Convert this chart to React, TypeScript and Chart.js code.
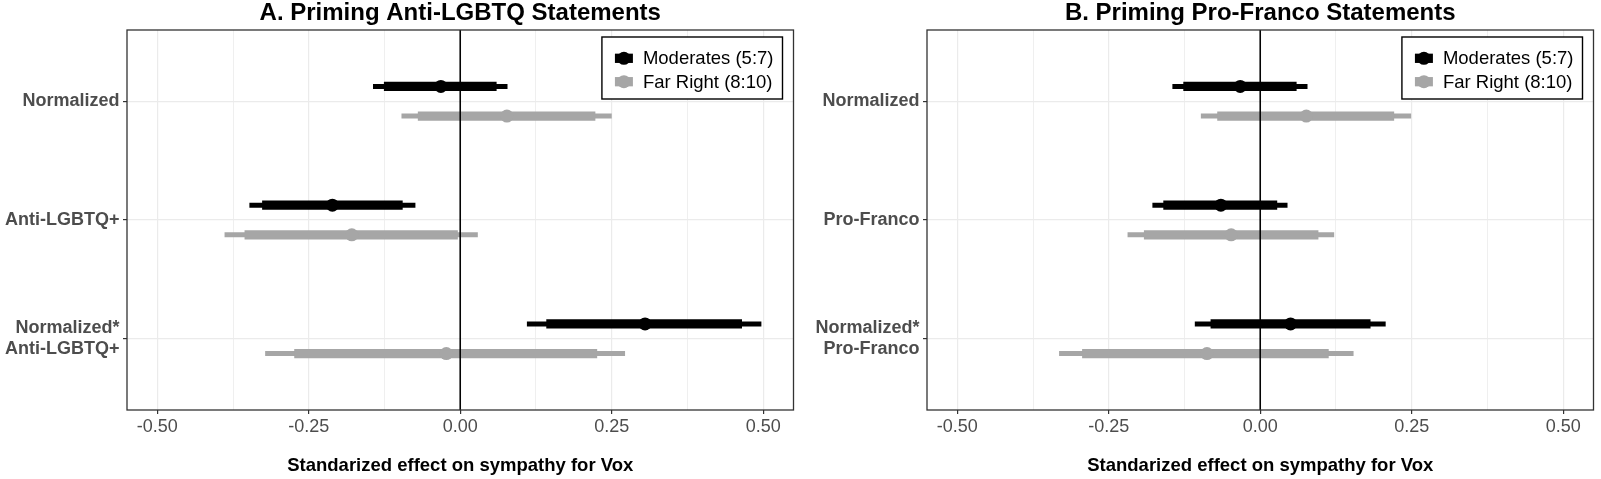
import React, { useEffect, useRef } from 'react';
import { Chart, registerables } from 'chart.js';

Chart.register(...registerables);

const FONT = '"Liberation Sans", Arial, Helvetica, sans-serif';
Chart.defaults.font.family = FONT;

// ---------- shared ----------
const groupLabels = ['Moderates (5:7)', 'Far Right (8:10)'];
const groupColors = ['#000000', '#a6a6a6'];

const xTickValues = [-0.5, -0.375, -0.25, -0.125, 0, 0.125, 0.25, 0.375, 0.5];
const xTickLabels = ['-0.50', '', '-0.25', '', '0.00', '', '0.25', '', '0.50'];
const xAxisTitle = 'Standarized effect on sympathy for Vox';

// ---------- panel A ----------
const titleA = 'A. Priming Anti-LGBTQ Statements';
const categoriesA = [['Normalized'], ['Anti-LGBTQ+'], ['Normalized*', 'Anti-LGBTQ+']];

const modEstA = [-0.032, -0.211, 0.305];
const modInnerLoA = [-0.126, -0.327, 0.142];
const modInnerHiA = [0.060, -0.095, 0.465];
const modOuterLoA = [-0.144, -0.348, 0.110];
const modOuterHiA = [0.078, -0.074, 0.497];

const farEstA = [0.077, -0.179, -0.023];
const farInnerLoA = [-0.070, -0.356, -0.274];
const farInnerHiA = [0.223, -0.004, 0.226];
const farOuterLoA = [-0.097, -0.389, -0.322];
const farOuterHiA = [0.250, 0.029, 0.272];

// ---------- panel B ----------
const titleB = 'B. Priming Pro-Franco Statements';
const categoriesB = [['Normalized'], ['Pro-Franco'], ['Normalized*', 'Pro-Franco']];

const modEstB = [-0.033, -0.065, 0.050];
const modInnerLoB = [-0.127, -0.160, -0.082];
const modInnerHiB = [0.060, 0.028, 0.182];
const modOuterLoB = [-0.145, -0.178, -0.108];
const modOuterHiB = [0.078, 0.045, 0.207];

const farEstB = [0.076, -0.048, -0.088];
const farInnerLoB = [-0.071, -0.192, -0.294];
const farInnerHiB = [0.221, 0.096, 0.113];
const farOuterLoB = [-0.098, -0.219, -0.332];
const farOuterHiB = [0.249, 0.122, 0.154];

type Series = {
  est: number[];
  innerLo: number[];
  innerHi: number[];
  outerLo: number[];
  outerHi: number[];
};

const seriesA: Series[] = [
  { est: modEstA, innerLo: modInnerLoA, innerHi: modInnerHiA, outerLo: modOuterLoA, outerHi: modOuterHiA },
  { est: farEstA, innerLo: farInnerLoA, innerHi: farInnerHiA, outerLo: farOuterLoA, outerHi: farOuterHiA },
];
const seriesB: Series[] = [
  { est: modEstB, innerLo: modInnerLoB, innerHi: modInnerHiB, outerLo: modOuterLoB, outerHi: modOuterHiB },
  { est: farEstB, innerLo: farInnerLoB, innerHi: farInnerHiB, outerLo: farOuterLoB, outerHi: farOuterHiB },
];

const frameAndLegend = {
  id: 'frameAndLegend',
  afterDraw(chart: any) {
    const { ctx, chartArea: ca } = chart;
    ctx.save();
    // panel border
    ctx.strokeStyle = '#333333';
    ctx.lineWidth = 1.3;
    ctx.strokeRect(ca.left, ca.top, ca.right - ca.left, ca.bottom - ca.top);

    // legend box
    ctx.font = `18.5px ${FONT}`;
    const tw = Math.max(...groupLabels.map((t) => ctx.measureText(t).width));
    const w = 41 + tw + 9;
    const h = 62;
    const right = ca.right - 11;
    const top = ca.top + 7;
    const left = right - w;
    ctx.fillStyle = '#ffffff';
    ctx.fillRect(left, top, w, h);
    ctx.strokeStyle = '#000000';
    ctx.lineWidth = 1.4;
    ctx.strokeRect(left, top, w, h);
    groupLabels.forEach((lab, g) => {
      const cy = top + 21.3 + g * 23.4;
      const cx = left + 22;
      ctx.strokeStyle = groupColors[g];
      ctx.lineWidth = 9.3;
      ctx.lineCap = 'butt';
      ctx.beginPath();
      ctx.moveTo(cx - 9, cy);
      ctx.lineTo(cx + 9, cy);
      ctx.stroke();
      ctx.fillStyle = groupColors[g];
      ctx.beginPath();
      ctx.arc(cx, cy, 6.5, 0, Math.PI * 2);
      ctx.fill();
      ctx.fillStyle = '#000000';
      ctx.textBaseline = 'middle';
      ctx.textAlign = 'left';
      ctx.fillText(lab, left + 41, cy + 1);
    });
    ctx.restore();
  },
};

function Panel({ left, width, title, categories, series }: { left: number; width: number; title: string; categories: string[][]; series: Series[] }) {
  const ref = useRef<HTMLCanvasElement>(null);
  useEffect(() => {
    if (!ref.current) return;
    const yMin = 0.4;
    const yMax = categories.length + 0.6;
    const dodge = [-0.125, 0.125];
    const datasets: any[] = [];
    datasets.push({
      label: 'zero',
      data: [{ x: 0, y: yMin }, { x: 0, y: yMax }],
      showLine: true,
      borderColor: '#000000',
      borderWidth: 1,
      pointRadius: 0,
      order: 0,
    });
    series.forEach((s, g) => {
      const color = groupColors[g];
      datasets.push({
        label: groupLabels[g],
        data: categories.map((_, i) => ({ x: s.est[i], y: i + 1 + dodge[g] })),
        showLine: false,
        pointRadius: 6.5,
        pointStyle: 'circle',
        backgroundColor: color,
        borderColor: color,
        borderWidth: 0,
        order: 1,
      });
      categories.forEach((_, i) => {
        const y = i + 1 + dodge[g];
        datasets.push({
          label: groupLabels[g] + ' inner',
          data: [{ x: s.innerLo[i], y }, { x: s.innerHi[i], y }],
          showLine: true,
          borderColor: color,
          borderWidth: 9.3,
          borderCapStyle: 'butt',
          pointRadius: 0,
          order: 2,
        });
        datasets.push({
          label: groupLabels[g] + ' outer',
          data: [{ x: s.outerLo[i], y }, { x: s.outerHi[i], y }],
          showLine: true,
          borderColor: color,
          borderWidth: 5,
          borderCapStyle: 'butt',
          pointRadius: 0,
          order: 3,
        });
      });
    });

    const isMajor = (v: number) => {
      const k = xTickValues.indexOf(v);
      return k >= 0 && xTickLabels[k] !== '';
    };

    const chart = new Chart(ref.current, {
      type: 'scatter',
      data: { datasets },
      plugins: [frameAndLegend],
      options: {
        animation: false,
        responsive: true,
        maintainAspectRatio: false,
        events: [],
        layout: { padding: { left: 0, right: 1.7, top: 0, bottom: 0 } },
        plugins: {
          legend: { display: false },
          tooltip: { enabled: false },
          title: {
            display: true,
            text: title,
            fullSize: false,
            color: '#000000',
            font: { size: 24, weight: 'bold', family: FONT, lineHeight: 1 },
            padding: { top: 1, bottom: 5 },
          },
        },
        scales: {
          x: {
            type: 'linear',
            min: -0.55,
            max: 0.55,
            afterBuildTicks: (s: any) => {
              s.ticks = xTickValues.map((v) => ({ value: v }));
            },
            afterFit: (s: any) => {
              s.height = 69;
            },
            border: { display: false },
            grid: {
              color: '#ebebeb',
              lineWidth: (c: any) => (c.tick && isMajor(c.tick.value) ? 1.2 : 0.8),
              drawTicks: true,
              tickLength: 4,
              tickWidth: 1.2,
              tickColor: (c: any) => (c.tick && isMajor(c.tick.value) ? '#333333' : 'rgba(0,0,0,0)'),
            },
            ticks: {
              autoSkip: false,
              maxRotation: 0,
              minRotation: 0,
              padding: 2,
              color: '#4d4d4d',
              font: { size: 18, family: FONT },
              callback: (v: any) => {
                const k = xTickValues.indexOf(Number(v));
                return k >= 0 ? xTickLabels[k] : '';
              },
            },
            title: {
              display: true,
              text: xAxisTitle,
              color: '#000000',
              font: { size: 18.5, weight: 'bold', family: FONT },
              padding: { top: 0, bottom: 2 },
            },
          },
          y: {
            type: 'linear',
            reverse: true,
            min: yMin,
            max: yMax,
            afterBuildTicks: (s: any) => {
              s.ticks = categories.map((_, i) => ({ value: i + 1 }));
            },
            afterFit: (s: any) => {
              s.width = 127;
            },
            border: { display: false },
            grid: {
              color: '#ebebeb',
              lineWidth: 1.2,
              drawTicks: true,
              tickLength: 4,
              tickWidth: 1.2,
              tickColor: '#333333',
            },
            ticks: {
              autoSkip: false,
              padding: 3.5,
              color: '#4d4d4d',
              font: { size: 18, weight: 'bold', family: FONT, lineHeight: 1.17 },
              callback: (v: any) => {
                const c = categories[Math.round(Number(v)) - 1];
                return c ? (c.length === 1 ? c[0] : c) : '';
              },
            },
          },
        },
      } as any,
    });
    return () => chart.destroy();
  }, []);

  return (
    <div style={{ position: 'absolute', left, top: 0, width, height: 479 }}>
      <canvas ref={ref} />
    </div>
  );
}

export default function App() {
  return (
    <div style={{ position: 'absolute', left: 0, top: 0, width: 1601, height: 479, background: '#ffffff', overflow: 'hidden' }}>
      <Panel left={0} width={800} title={titleA} categories={categoriesA} series={seriesA} />
      <Panel left={800} width={800} title={titleB} categories={categoriesB} series={seriesB} />
    </div>
  );
}
